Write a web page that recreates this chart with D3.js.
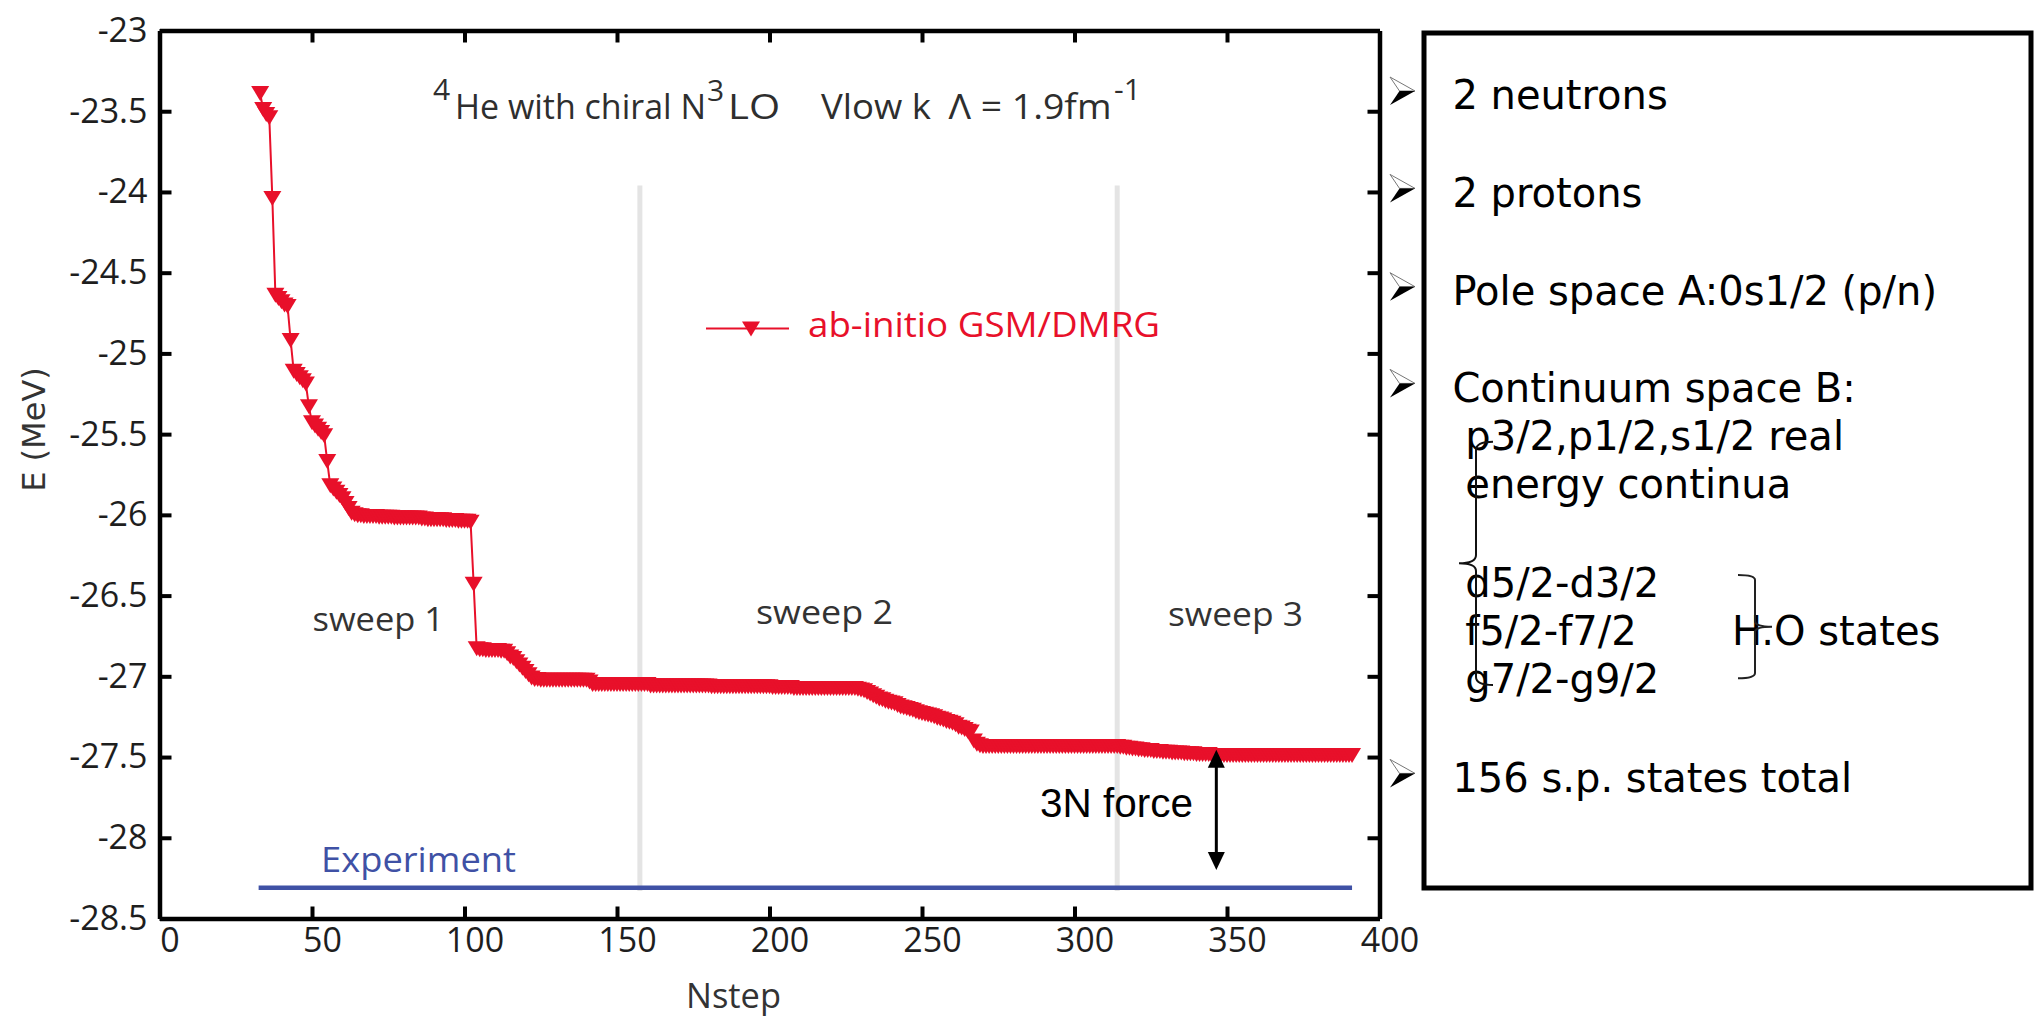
<!DOCTYPE html>
<html>
<head>
<meta charset="utf-8">
<script src="https://cdn.jsdelivr.net/npm/d3@7"></script>
<style>
  html, body { margin: 0; padding: 0; background: #ffffff; }
  svg { display: block; }
</style>
</head>
<body>
<svg id="chart" width="2034" height="1021"></svg>
<script>
// ---------------- data ----------------
const firstStep = 33;
// ground-state energy (MeV) per DMRG step, starting at firstStep
const energy = [
  -23.39, -23.49, -23.52, -23.54, -24.04, -24.64, -24.66, -24.68, -24.70, -24.71,
  -24.92, -25.11, -25.13, -25.15, -25.17, -25.19, -25.33, -25.43, -25.45, -25.47,
  -25.49, -25.51, -25.67, -25.82, -25.84, -25.86, -25.88, -25.90, -25.93, -25.96,
  -25.99, -26.00, -26.005, -26.005, -26.01, -26.01, -26.01, -26.01, -26.01, -26.015,
  -26.015, -26.015, -26.015, -26.015, -26.02, -26.02, -26.02, -26.02, -26.02, -26.02,
  -26.02, -26.02, -26.02, -26.025, -26.025, -26.03, -26.03, -26.03, -26.03, -26.03,
  -26.03, -26.035, -26.035, -26.035, -26.035, -26.04, -26.04, -26.04, -26.04, -26.045,
  -26.43, -26.83, -26.835, -26.835, -26.84, -26.84, -26.84, -26.84, -26.84, -26.845,
  -26.845, -26.86, -26.88, -26.89, -26.91, -26.93, -26.95, -26.97, -26.99, -27.01,
  -27.02, -27.02, -27.025, -27.025, -27.025, -27.025, -27.025, -27.025, -27.025, -27.025,
  -27.025, -27.025, -27.025, -27.025, -27.025, -27.025, -27.025, -27.025, -27.035, -27.05,
  -27.05, -27.05, -27.05, -27.05, -27.05, -27.05, -27.05, -27.05, -27.05, -27.05,
  -27.05, -27.05, -27.05, -27.05, -27.05, -27.05, -27.05, -27.05, -27.06, -27.06,
  -27.06, -27.06, -27.06, -27.06, -27.06, -27.06, -27.06, -27.06, -27.06, -27.06,
  -27.06, -27.06, -27.06, -27.06, -27.06, -27.06, -27.06, -27.06, -27.065, -27.065,
  -27.065, -27.065, -27.065, -27.065, -27.065, -27.065, -27.065, -27.065, -27.065, -27.065,
  -27.065, -27.065, -27.065, -27.065, -27.065, -27.065, -27.065, -27.065, -27.07, -27.07,
  -27.07, -27.07, -27.07, -27.07, -27.07, -27.075, -27.075, -27.075, -27.075, -27.075,
  -27.075, -27.075, -27.075, -27.075, -27.075, -27.075, -27.075, -27.075, -27.075, -27.075,
  -27.075, -27.075, -27.075, -27.075, -27.075, -27.075, -27.08, -27.085, -27.09, -27.10,
  -27.11, -27.12, -27.13, -27.14, -27.145, -27.155, -27.16, -27.165, -27.17, -27.18,
  -27.19, -27.195, -27.20, -27.205, -27.21, -27.22, -27.225, -27.23, -27.235, -27.24,
  -27.245, -27.25, -27.26, -27.265, -27.27, -27.28, -27.285, -27.29, -27.30, -27.315,
  -27.32, -27.33, -27.34, -27.345, -27.40, -27.42, -27.43, -27.435, -27.435, -27.435,
  -27.435, -27.435, -27.435, -27.435, -27.435, -27.435, -27.435, -27.435, -27.435, -27.435,
  -27.435, -27.435, -27.435, -27.435, -27.435, -27.435, -27.435, -27.435, -27.435, -27.435,
  -27.435, -27.435, -27.435, -27.435, -27.435, -27.435, -27.435, -27.435, -27.435, -27.435,
  -27.435, -27.435, -27.435, -27.435, -27.435, -27.435, -27.435, -27.435, -27.435, -27.435,
  -27.435, -27.435, -27.44, -27.44, -27.445, -27.445, -27.45, -27.45, -27.455, -27.455,
  -27.46, -27.46, -27.46, -27.465, -27.465, -27.465, -27.47, -27.47, -27.47, -27.475,
  -27.475, -27.475, -27.475, -27.48, -27.48, -27.48, -27.48, -27.485, -27.485, -27.485,
  -27.485, -27.485, -27.49, -27.49, -27.49, -27.49, -27.49, -27.49, -27.49, -27.49,
  -27.49, -27.49, -27.49, -27.49, -27.49, -27.49, -27.49, -27.49, -27.49, -27.49,
  -27.49, -27.49, -27.49, -27.49, -27.49, -27.49, -27.49, -27.49, -27.49, -27.49,
  -27.49, -27.49, -27.49, -27.49, -27.49, -27.49, -27.49, -27.49, -27.49, -27.49,
  -27.49, -27.49, -27.49, -27.49, -27.49, -27.49, -27.49, -27.49, -27.49
];
const xDomain = [0, 400];
const yDomain = [-28.5, -23];
const xTicks = [0, 50, 100, 150, 200, 250, 300, 350, 400];
const yTicks = [-23, -23.5, -24, -24.5, -25, -25.5, -26, -26.5, -27, -27.5, -28, -28.5];
const experimentE = -28.31;
const experimentSteps = [32.5, 391];
const sweepBoundaries = [157.5, 314];
const sweepLineE = [-23.96, -28.33];
const arrowStep = 346.5;
const arrowE = [-27.455, -28.2];
const seriesName = "ab-initio GSM/DMRG";
const infoLines = [
  "2 neutrons", "2 protons", "Pole space A:0s1/2 (p/n)", "Continuum space B:",
  "p3/2,p1/2,s1/2 real", "energy continua",
  "d5/2-d3/2", "f5/2-f7/2", "g7/2-g9/2", "H.O states", "156 s.p. states total"
];

// ---------------- layout ----------------
const RED = "#e8102a", BLUE = "#3f51a5";
const MYR = "'Open Sans', 'Noto Sans', sans-serif";
const DJV = "'DejaVu Sans', sans-serif";

const svg = d3.select("#chart");
const x = d3.scaleLinear().domain(xDomain).range([159.5, 1379.5]);
const y = d3.scaleLinear().domain(yDomain).range([918.5, 30.5]);

const points = energy.map((e, i) => ({ s: firstStep + i, e }));

// sweep boundary lines
svg.append("g").selectAll("line").data(sweepBoundaries).join("line")
  .attr("x1", d => x(d)).attr("x2", d => x(d))
  .attr("y1", y(sweepLineE[0])).attr("y2", y(sweepLineE[1]))
  .attr("stroke", "#e4e4e4").attr("stroke-width", 5);

// experiment line
svg.append("line")
  .attr("x1", x(experimentSteps[0])).attr("x2", x(experimentSteps[1]))
  .attr("y1", y(experimentE)).attr("y2", y(experimentE))
  .attr("stroke", BLUE).attr("stroke-width", 4.5);

// series line
svg.append("path").datum(points)
  .attr("fill", "none").attr("stroke", RED).attr("stroke-width", 2)
  .attr("d", d3.line().x(d => x(d.s)).y(d => y(d.e)));

const tri = "M-9,-7.5L9,-7.5L0,7.5Z";
svg.append("g").selectAll("path").data(points).join("path")
  .attr("d", tri).attr("fill", RED)
  .attr("transform", d => `translate(${x(d.s)},${y(d.e)})`);

// axes
function styleAxis(g) {
  g.selectAll(".domain").attr("stroke", "#000").attr("stroke-width", 4.5);
  g.selectAll(".tick line").attr("stroke", "#000").attr("stroke-width", 4);
  g.selectAll(".tick text").attr("fill", "#1e1e1e")
    .style("font-family", MYR).style("font-size", "34px");
}
svg.append("g").attr("transform", "translate(0,918.5)")
  .call(d3.axisBottom(x).tickValues(xTicks).tickSize(-12).tickSizeOuter(0).tickPadding(9).tickFormat(d => String(d)))
  .call(styleAxis)
  .call(g => g.selectAll(".tick text").attr("dx", 10));
svg.append("g").attr("transform", "translate(0,30.5)")
  .call(d3.axisTop(x).tickValues(xTicks.slice(1, -1)).tickSize(-12).tickSizeOuter(0).tickFormat(""))
  .call(styleAxis);
svg.append("g").attr("transform", "translate(159.5,0)")
  .call(d3.axisLeft(y).tickValues(yTicks).tickSize(-12).tickSizeOuter(0).tickPadding(12).tickFormat(d => String(d)))
  .call(styleAxis);
svg.append("g").attr("transform", "translate(1379.5,0)")
  .call(d3.axisRight(y).tickValues(yTicks.slice(1, -1)).tickSize(-12).tickSizeOuter(0).tickFormat(""))
  .call(styleAxis);

// axis titles
svg.append("text").attr("x", 686).attr("y", 1008)
  .attr("textLength", 95).attr("lengthAdjust", "spacingAndGlyphs")
  .style("font-family", MYR).style("font-size", "34px").attr("fill", "#333").text("Nstep");
svg.append("text").attr("transform", "translate(45,429.5) rotate(-90)")
  .attr("text-anchor", "middle")
  .style("font-family", DJV).style("font-size", "32px").attr("fill", "#333").text("E (MeV)");

// title
const titleParts = [
  { t: "4", x: 433, y: 100, fs: 30 },
  { t: "He with chiral N", x: 455, y: 118.5, fs: 34, w: 251 },
  { t: "3", x: 707, y: 101, fs: 30 },
  { t: "LO", x: 728, y: 118.5, fs: 34, w: 52 },
  { t: "Vlow k", x: 821, y: 118.5, fs: 34, w: 110 },
  { t: "Λ = 1.9fm", x: 948.5, y: 118.5, fs: 34, w: 163 },
  { t: "-1", x: 1114, y: 100, fs: 30 }
];
svg.append("g").selectAll("text").data(titleParts).join("text")
  .attr("x", d => d.x).attr("y", d => d.y)
  .attr("textLength", d => d.w ? d.w : null)
  .attr("lengthAdjust", d => d.w ? "spacingAndGlyphs" : null)
  .style("font-family", MYR).style("font-size", d => d.fs + "px")
  .attr("fill", "#2e2e2e").text(d => d.t);

// legend
svg.append("line").attr("x1", 706).attr("x2", 789).attr("y1", 328.5).attr("y2", 328.5)
  .attr("stroke", RED).attr("stroke-width", 2);
svg.append("path").attr("d", tri).attr("fill", RED).attr("transform", "translate(751,329)");
svg.append("text").attr("x", 808).attr("y", 337)
  .attr("textLength", 352).attr("lengthAdjust", "spacingAndGlyphs")
  .style("font-family", MYR).style("font-size", "34px").attr("fill", RED).text(seriesName);

// sweep labels
const sweepLabelPos = [
  { t: "sweep 1", x: 312.5, y: 631, w: 131.5 },
  { t: "sweep 2", x: 756, y: 624, w: 137 },
  { t: "sweep 3", x: 1168, y: 626, w: 135 }
];
svg.append("g").selectAll("text").data(sweepLabelPos).join("text")
  .attr("x", d => d.x).attr("y", d => d.y)
  .attr("textLength", d => d.w).attr("lengthAdjust", "spacingAndGlyphs")
  .style("font-family", MYR).style("font-size", "32px").attr("fill", "#333").text(d => d.t);

// Experiment label
svg.append("text").attr("x", 321).attr("y", 871.5)
  .attr("textLength", 195).attr("lengthAdjust", "spacingAndGlyphs")
  .style("font-family", MYR).style("font-size", "35px").attr("fill", BLUE).text("Experiment");

// 3N force arrow
const ax = x(arrowStep), ay1 = y(arrowE[0]), ay2 = y(arrowE[1]);
svg.append("line").attr("x1", ax).attr("x2", ax).attr("y1", ay1 + 14).attr("y2", ay2 - 14)
  .attr("stroke", "#000").attr("stroke-width", 3);
svg.append("path").attr("fill", "#000")
  .attr("d", `M${ax},${ay1}L${ax - 8.5},${ay1 + 18}L${ax + 8.5},${ay1 + 18}Z`);
svg.append("path").attr("fill", "#000")
  .attr("d", `M${ax},${ay2}L${ax - 8.5},${ay2 - 18}L${ax + 8.5},${ay2 - 18}Z`);
svg.append("text").attr("x", 1040).attr("y", 817)
  .attr("textLength", 153).attr("lengthAdjust", "spacingAndGlyphs")
  .style("font-family", "'Liberation Sans', Arial, sans-serif").style("font-size", "40px")
  .attr("fill", "#000").text("3N force");

// ---------------- right info panel ----------------
svg.append("rect").attr("x", 1424).attr("y", 33).attr("width", 607).attr("height", 855)
  .attr("fill", "none").attr("stroke", "#000").attr("stroke-width", 5);

const infoPos = [
  [1452.4, 109.3, true], [1452.4, 206.7, true], [1452.4, 305, true], [1452.4, 401.7, true],
  [1465.3, 450, false], [1465.3, 498.3, false],
  [1465.3, 596.7, false], [1465.3, 645, false], [1465.3, 693.3, false],
  [1731.9, 645, false], [1452.4, 791.7, true]
];
const info = infoLines.map((t, i) => ({ t, x: infoPos[i][0], y: infoPos[i][1], bullet: infoPos[i][2] }));
svg.append("g").selectAll("text").data(info).join("text")
  .attr("x", d => d.x).attr("y", d => d.y)
  .style("font-family", DJV).style("font-size", "40px").attr("fill", "#000").text(d => d.t);

// bullets (3-D arrowheads)
const bullets = svg.append("g").selectAll("g").data(info.filter(d => d.bullet)).join("g")
  .attr("transform", d => `translate(1402.5,${d.y - 18.3})`);
bullets.append("path").attr("d", "M-12.5,-14L12.5,0L-3,0Z")
  .attr("fill", "#fff").attr("stroke", "#777").attr("stroke-width", 1);
bullets.append("path").attr("d", "M-3,0L12.5,0L-12.5,14Z").attr("fill", "#000");

// braces
svg.append("path").attr("fill", "none").attr("stroke", "#111").attr("stroke-width", 2)
  .attr("d", "M1493,441.7 Q1476,441.7 1476,450 L1476,555 Q1476,563.3 1459,563.3 Q1476,563.3 1476,571 L1476,677 Q1476,685 1493,685");
svg.append("path").attr("fill", "none").attr("stroke", "#222").attr("stroke-width", 2)
  .attr("d", "M1738,575 Q1755,575 1755,580 L1755,621 Q1755,626.7 1772,626.7 Q1755,626.7 1755,632 L1755,673 Q1755,678.3 1738,678.3");
</script>
</body>
</html>
